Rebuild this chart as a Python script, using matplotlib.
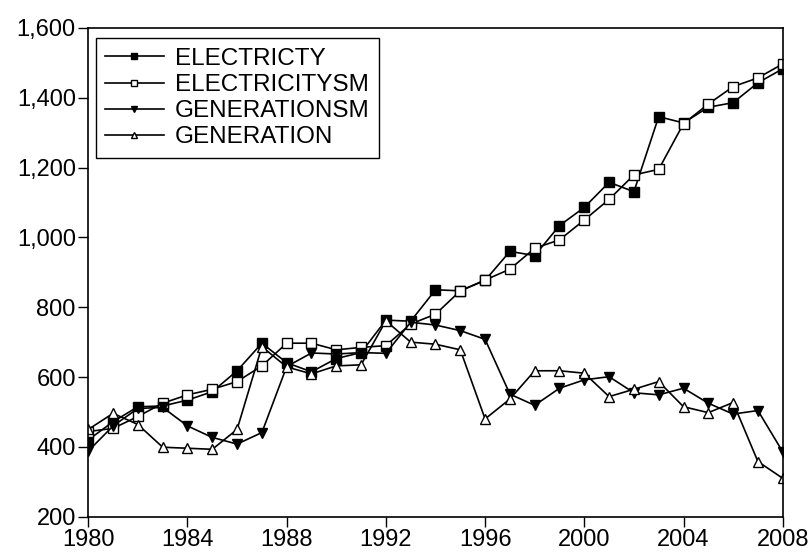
import matplotlib
matplotlib.use('Agg')
import matplotlib.pyplot as plt
from matplotlib.ticker import FuncFormatter

years = list(range(1980, 2009))

# values
electricty = [420, 472, 515, 517, 534, 558, 618, 697, 641, 615, 653, 670, 763,
              760, 850, 847, 877, 960, 948, 1034, 1086, 1158, 1131, 1346, 1328,
              1373, 1386, 1443, 1483]
electricitysm = [444, 453, 487, 525, 549, 565, 587, 632, 697, 697, 678, 685, 690,
                 752, 780, 847, 878, 909, 969, 993, 1050, 1109, 1179, 1195, 1326,
                 1382, 1432, 1457, 1497]
generationsm = [388, 460, 510, 513, 460, 427, 408, 441, 630, 669, 666, 670, 668,
                757, 749, 733, 708, 551, 519, 568, 592, 601, 555, 549, 568,
                525, 494, 504, 386]
generation = [450, 496, 464, 399, 396, 393, 450, 687, 629, 609, 632, 635, 761,
              700, 694, 678, 480, 537, 618, 618, 611, 544, 565, 587, 515,
              498, 527, 358, 310]

plt.rcParams['font.family'] = ['Liberation Sans', 'DejaVu Sans']

fig = plt.figure(figsize=(8.1, 5.52), dpi=100)
ax = fig.add_axes([0.109, 0.064, 0.8573, 0.8853])

style = dict(color='black', linewidth=1.2, markersize=6.5, markeredgewidth=1.0,
             markeredgecolor='black')
ax.plot(years, electricty, marker='s', markerfacecolor='black', label='ELECTRICTY', **style)
ax.plot(years, electricitysm, marker='s', markerfacecolor='white', label='ELECTRICITYSM', **style)
ax.plot(years, generationsm, marker='v', markerfacecolor='black', label='GENERATIONSM', **style)
ax.plot(years, generation, marker='^', markerfacecolor='white', label='GENERATION', **style)

ax.set_xlim(1980, 2008)
ax.set_ylim(200, 1600)
ax.set_xticks(range(1980, 2009, 4))
ax.set_yticks(range(200, 1601, 200))
ax.yaxis.set_major_formatter(FuncFormatter(lambda v, p: f'{int(v):,}'))
ax.tick_params(direction='out', length=7, width=1, labelsize=17, pad=2, colors='black')
for s in ax.spines.values():
    s.set_linewidth(1.2)

leg = ax.legend(loc='upper left', bbox_to_anchor=(0.0105, 0.979), fontsize=17.5,
                frameon=True, fancybox=False, edgecolor='black', framealpha=1,
                handlelength=2.4, handletextpad=0.45, borderpad=0.4,
                labelspacing=0.17, markerscale=0.65, borderaxespad=0)
leg.get_frame().set_linewidth(1.0)

fig.savefig('out.png', dpi=100)
